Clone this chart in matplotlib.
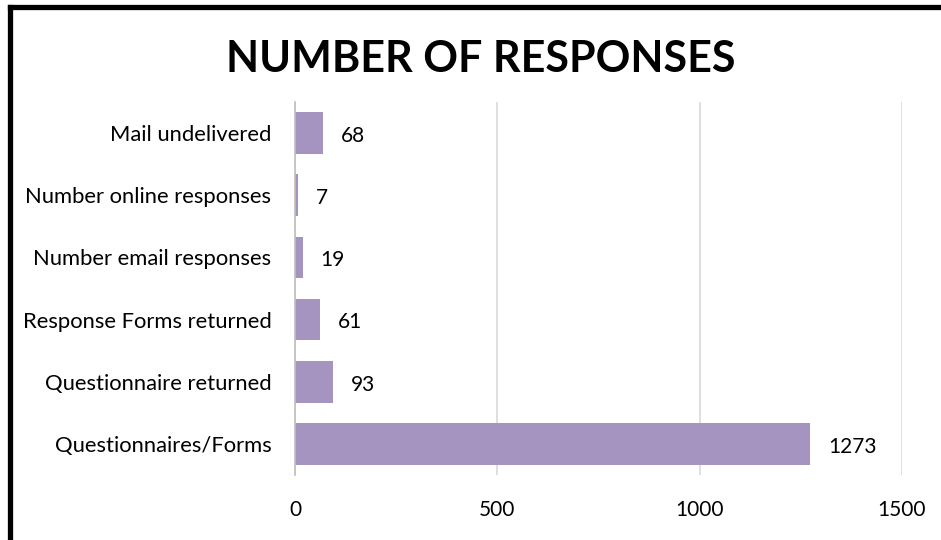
import matplotlib
matplotlib.use("Agg")
import matplotlib.pyplot as plt
from matplotlib.lines import Line2D

categories = ["Questionnaires/Forms", "Questionnaire returned", "Response Forms returned",
              "Number email responses", "Number online responses", "Mail undelivered"]
values = [1273, 93, 61, 19, 7, 68]
xticks = [0, 500, 1000, 1500]

plt.rcParams['font.family'] = ['Lato', 'DejaVu Sans']

fig = plt.figure(figsize=(9.41, 5.40), dpi=100)
ax = fig.add_axes([295/941, 1-475/540, 607/941, 373/540])

ypos = list(range(len(categories)))
ax.barh(ypos, values, height=0.67, color="#a593c0", zorder=2)
for y, v in zip(ypos, values):
    ax.annotate(str(v), (v, y), xytext=(13, -2), textcoords="offset points",
                va="center", ha="left", fontsize=15, color="#000000")

ax.set_xlim(0, 1500)
ax.set_ylim(-0.5, len(categories) - 0.5)
ax.set_yticks(ypos)
ax.set_yticklabels(categories, fontsize=15.8)
ax.set_xticks(xticks)
ax.set_xticklabels([str(t) for t in xticks], fontsize=15)
ax.tick_params(axis="both", length=0)
ax.tick_params(axis="x", pad=18)
ax.tick_params(axis="y", pad=17)
ax.xaxis.grid(True, color="#d9d9d9", linewidth=1.2, zorder=0)
for s in ["top", "right", "bottom"]:
    ax.spines[s].set_visible(False)
ax.spines["left"].set_color("#bfbfbf")
ax.spines["left"].set_linewidth(1.2)

fig.text(481/941, 1-59/540, "NUMBER OF RESPONSES", ha="center", va="center",
         fontsize=31, fontweight="bold")

# Left and top border of the chart frame
fig.lines.append(Line2D([9.5/941, 9.5/941], [0, 1-7/540], transform=fig.transFigure,
                        color="black", linewidth=3.8, solid_capstyle="projecting"))
fig.lines.append(Line2D([9.5/941, 1], [1-7/540, 1-7/540], transform=fig.transFigure,
                        color="black", linewidth=3.8, solid_capstyle="projecting"))

fig.savefig("out.png", dpi=100)
